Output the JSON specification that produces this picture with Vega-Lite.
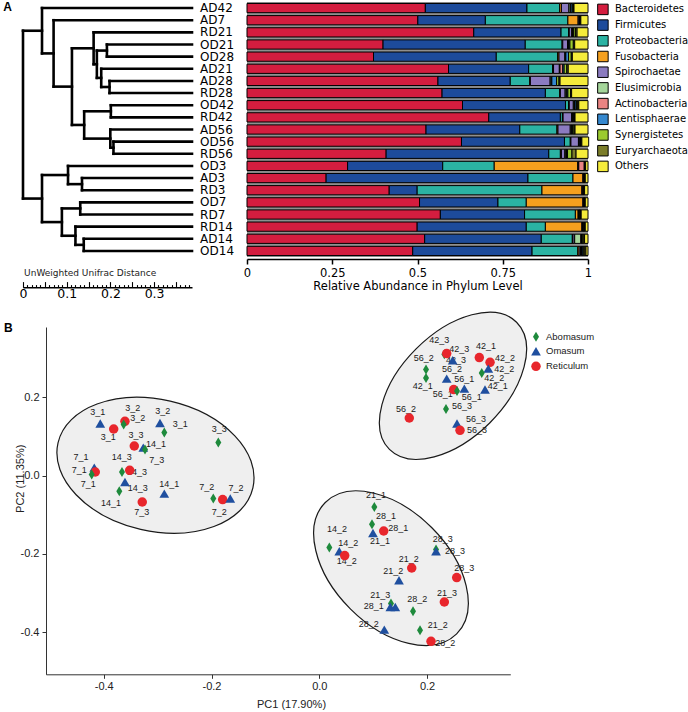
{
  "$schema": "https://vega.github.io/schema/vega-lite/v6.json",
  "padding": {"left": 3, "top": 1, "right": 0, "bottom": 0},
  "spacing": 5,
  "config": {"view": {"stroke": null}, "axis": {"grid": false}},
  "resolve": {"scale": {"color": "independent", "shape": "independent", "size": "independent"}, "legend": {"color": "independent", "shape": "independent", "size": "independent"}},
  "vconcat": [
    {
      "bounds": "flush",
      "spacing": 55,
      "hconcat": [
        {
          "width": 169,
          "height": 255,
          "title": {"text": "A", "anchor": "start", "frame": "group", "offset": 0, "dx": -19.7, "dy": 21.2, "fontSize": 12, "fontWeight": "bold", "font": "Liberation Sans", "baseline": "alphabetic", "color": "black"},
          "data": {"values": [
            {"x":0.0435,"x2":0.3867,"y":0,"y2":0},
            {"x":0.070,"x2":0.3867,"y":1,"y2":1},
            {"x":0.1616,"x2":0.3867,"y":2,"y2":2},
            {"x":0.192,"x2":0.3867,"y":3,"y2":3},
            {"x":0.192,"x2":0.3867,"y":4,"y2":4},
            {"x":0.179,"x2":0.3867,"y":5,"y2":5},
            {"x":0.198,"x2":0.3867,"y":6,"y2":6},
            {"x":0.198,"x2":0.3867,"y":7,"y2":7},
            {"x":0.201,"x2":0.3867,"y":8,"y2":8},
            {"x":0.201,"x2":0.3867,"y":9,"y2":9},
            {"x":0.1998,"x2":0.3867,"y":10,"y2":10},
            {"x":0.207,"x2":0.3867,"y":11,"y2":11},
            {"x":0.207,"x2":0.3867,"y":12,"y2":12},
            {"x":0.103,"x2":0.3867,"y":13,"y2":13},
            {"x":0.135,"x2":0.3867,"y":14,"y2":14},
            {"x":0.135,"x2":0.3867,"y":15,"y2":15},
            {"x":0.131,"x2":0.3867,"y":16,"y2":16},
            {"x":0.131,"x2":0.3867,"y":17,"y2":17},
            {"x":0.120,"x2":0.3867,"y":18,"y2":18},
            {"x":0.139,"x2":0.3867,"y":19,"y2":19},
            {"x":0.139,"x2":0.3867,"y":20,"y2":20},
            {"x":0,"x2":0.0435,"y":1.867,"y2":1.867},
            {"x":0,"x2":0.0435,"y":15.6875,"y2":15.6875},
            {"x":0.0435,"x2":0.070,"y":3.734,"y2":3.734},
            {"x":0.070,"x2":0.112,"y":6.469,"y2":6.469},
            {"x":0.112,"x2":0.1616,"y":3.3125,"y2":3.3125},
            {"x":0.112,"x2":0.140,"y":9.625,"y2":9.625},
            {"x":0.1616,"x2":0.169,"y":4.625,"y2":4.625},
            {"x":0.169,"x2":0.192,"y":3.5,"y2":3.5},
            {"x":0.169,"x2":0.179,"y":5.75,"y2":5.75},
            {"x":0.179,"x2":0.198,"y":6.5,"y2":6.5},
            {"x":0.140,"x2":0.201,"y":8.5,"y2":8.5},
            {"x":0.140,"x2":0.1998,"y":10.75,"y2":10.75},
            {"x":0.1998,"x2":0.207,"y":11.5,"y2":11.5},
            {"x":0.0435,"x2":0.103,"y":13.75,"y2":13.75},
            {"x":0.0435,"x2":0.089,"y":17.625,"y2":17.625},
            {"x":0.103,"x2":0.135,"y":14.5,"y2":14.5},
            {"x":0.089,"x2":0.131,"y":16.5,"y2":16.5},
            {"x":0.089,"x2":0.120,"y":18.75,"y2":18.75},
            {"x":0.120,"x2":0.139,"y":19.5,"y2":19.5},
            {"x":0,"x2":0,"y":1.867,"y2":15.6875},
            {"x":0.0435,"x2":0.0435,"y":0,"y2":3.734},
            {"x":0.070,"x2":0.070,"y":1,"y2":6.469},
            {"x":0.112,"x2":0.112,"y":3.3125,"y2":9.625},
            {"x":0.1616,"x2":0.1616,"y":2,"y2":4.625},
            {"x":0.169,"x2":0.169,"y":3.5,"y2":5.75},
            {"x":0.192,"x2":0.192,"y":3,"y2":4},
            {"x":0.179,"x2":0.179,"y":5,"y2":6.5},
            {"x":0.198,"x2":0.198,"y":6,"y2":7},
            {"x":0.140,"x2":0.140,"y":8.5,"y2":10.75},
            {"x":0.201,"x2":0.201,"y":8,"y2":9},
            {"x":0.1998,"x2":0.1998,"y":10,"y2":11.5},
            {"x":0.207,"x2":0.207,"y":11,"y2":12},
            {"x":0.0435,"x2":0.0435,"y":13.75,"y2":17.625},
            {"x":0.103,"x2":0.103,"y":13,"y2":14.5},
            {"x":0.135,"x2":0.135,"y":14,"y2":15},
            {"x":0.089,"x2":0.089,"y":16.5,"y2":18.75},
            {"x":0.131,"x2":0.131,"y":16,"y2":17},
            {"x":0.120,"x2":0.120,"y":18,"y2":19.5},
            {"x":0.139,"x2":0.139,"y":19,"y2":20}
          ]},
          "mark": {"type": "rule", "strokeWidth": 2.6, "color": "black", "strokeCap": "square"},
          "encoding": {
            "x": {"field": "x", "type": "quantitative", "scale": {"domain": [0, 0.3867], "nice": false, "zero": false},
              "axis": {"title": "UnWeighted Unifrac Distance", "titleX": 0.6, "titleY": -11.7, "titleAlign": "left", "titleBaseline": "alphabetic", "titleAnchor": "start", "titleFont": "DejaVu Sans", "titleFontSize": 9, "titleFontWeight": "normal", "titleColor": "#222",
                "offset": 30.3,
                "values": [0,0.01,0.02,0.03,0.04,0.05,0.06,0.07,0.08,0.09,0.1,0.11,0.12,0.13,0.14,0.15,0.16,0.17,0.18,0.19,0.2,0.21,0.22,0.23,0.24,0.25,0.26,0.27,0.28,0.29,0.3,0.31,0.32,0.33,0.34,0.35,0.36,0.37,0.38],
                "labelExpr": "datum.value == 0 ? '0' : (abs(datum.value*10 - round(datum.value*10)) < 0.0001 ? format(datum.value, '.1f') : '')",
                "labelFont": "DejaVu Sans", "labelFontSize": 12.5, "labelColor": "black", "labelPadding": 6, "labelFlush": false, "labelOverlap": false,
                "domainColor": "black", "domainWidth": 1.6, "tickColor": "black", "tickWidth": 1.1,
                "tickSize": {"condition": {"test": "abs(datum.value*20 - round(datum.value*20)) < 0.0001", "value": -5.7}, "value": -2.7}}},
            "x2": {"field": "x2"},
            "y": {"field": "y", "type": "quantitative", "scale": {"domain": [-0.5, 20.5], "reverse": true, "nice": false, "zero": false}, "axis": null},
            "y2": {"field": "y2"}
          }
        },
        {
          "width": 341,
          "height": 255,
          "view": {"fill": "#8f8f8f", "stroke": null},
          "data": {"values": [
            {"s":"AD42","Bacteroidetes":0.523,"Firmicutes":0.298,"Proteobacteria":0.096,"Fusobacteria":0.005,"Spirochaetae":0.022,"Elusimicrobia":0.004,"Actinobacteria":0.002,"Lentisphaerae":0.004,"Synergistetes":0.003,"Euryarchaeota":0.002,"Others":0.041},
            {"s":"AD7","Bacteroidetes":0.501,"Firmicutes":0.198,"Proteobacteria":0.242,"Fusobacteria":0.030,"Spirochaetae":0.003,"Elusimicrobia":0.001,"Actinobacteria":0.001,"Lentisphaerae":0.001,"Synergistetes":0.001,"Euryarchaeota":0.001,"Others":0.021},
            {"s":"RD21","Bacteroidetes":0.665,"Firmicutes":0.256,"Proteobacteria":0.022,"Fusobacteria":0.002,"Spirochaetae":0.007,"Elusimicrobia":0.003,"Actinobacteria":0.001,"Lentisphaerae":0.002,"Synergistetes":0.005,"Euryarchaeota":0.005,"Others":0.032},
            {"s":"OD21","Bacteroidetes":0.399,"Firmicutes":0.417,"Proteobacteria":0.108,"Fusobacteria":0.002,"Spirochaetae":0.014,"Elusimicrobia":0.003,"Actinobacteria":0.001,"Lentisphaerae":0.003,"Synergistetes":0.010,"Euryarchaeota":0.004,"Others":0.039},
            {"s":"OD28","Bacteroidetes":0.371,"Firmicutes":0.360,"Proteobacteria":0.180,"Fusobacteria":0.004,"Spirochaetae":0.017,"Elusimicrobia":0.002,"Actinobacteria":0.001,"Lentisphaerae":0.008,"Synergistetes":0.008,"Euryarchaeota":0.003,"Others":0.046},
            {"s":"AD21","Bacteroidetes":0.591,"Firmicutes":0.235,"Proteobacteria":0.070,"Fusobacteria":0.003,"Spirochaetae":0.017,"Elusimicrobia":0.002,"Actinobacteria":0.008,"Lentisphaerae":0.004,"Synergistetes":0.008,"Euryarchaeota":0.004,"Others":0.058},
            {"s":"AD28","Bacteroidetes":0.560,"Firmicutes":0.212,"Proteobacteria":0.057,"Fusobacteria":0.002,"Spirochaetae":0.058,"Elusimicrobia":0.003,"Actinobacteria":0.002,"Lentisphaerae":0.014,"Synergistetes":0.007,"Euryarchaeota":0.003,"Others":0.082},
            {"s":"RD28","Bacteroidetes":0.572,"Firmicutes":0.303,"Proteobacteria":0.042,"Fusobacteria":0.002,"Spirochaetae":0.014,"Elusimicrobia":0.003,"Actinobacteria":0.002,"Lentisphaerae":0.003,"Synergistetes":0.008,"Euryarchaeota":0.003,"Others":0.048},
            {"s":"OD42","Bacteroidetes":0.632,"Firmicutes":0.302,"Proteobacteria":0.009,"Fusobacteria":0.002,"Spirochaetae":0.012,"Elusimicrobia":0.003,"Actinobacteria":0.002,"Lentisphaerae":0.004,"Synergistetes":0.004,"Euryarchaeota":0.003,"Others":0.027},
            {"s":"RD42","Bacteroidetes":0.709,"Firmicutes":0.210,"Proteobacteria":0.006,"Fusobacteria":0.002,"Spirochaetae":0.025,"Elusimicrobia":0.002,"Actinobacteria":0.002,"Lentisphaerae":0.002,"Synergistetes":0.002,"Euryarchaeota":0.002,"Others":0.038},
            {"s":"AD56","Bacteroidetes":0.525,"Firmicutes":0.275,"Proteobacteria":0.109,"Fusobacteria":0.003,"Spirochaetae":0.036,"Elusimicrobia":0.003,"Actinobacteria":0.002,"Lentisphaerae":0.002,"Synergistetes":0.004,"Euryarchaeota":0.003,"Others":0.038},
            {"s":"OD56","Bacteroidetes":0.629,"Firmicutes":0.302,"Proteobacteria":0.017,"Fusobacteria":0.002,"Spirochaetae":0.022,"Elusimicrobia":0.002,"Actinobacteria":0.002,"Lentisphaerae":0.002,"Synergistetes":0.002,"Euryarchaeota":0.002,"Others":0.020},
            {"s":"RD56","Bacteroidetes":0.408,"Firmicutes":0.477,"Proteobacteria":0.034,"Fusobacteria":0.003,"Spirochaetae":0.010,"Elusimicrobia":0.003,"Actinobacteria":0.002,"Lentisphaerae":0.003,"Synergistetes":0.013,"Euryarchaeota":0.012,"Others":0.035},
            {"s":"OD3","Bacteroidetes":0.295,"Firmicutes":0.279,"Proteobacteria":0.151,"Fusobacteria":0.245,"Spirochaetae":0.002,"Elusimicrobia":0.001,"Actinobacteria":0.016,"Lentisphaerae":0.001,"Synergistetes":0.002,"Euryarchaeota":0.001,"Others":0.007},
            {"s":"AD3","Bacteroidetes":0.232,"Firmicutes":0.592,"Proteobacteria":0.132,"Fusobacteria":0.029,"Spirochaetae":0.002,"Elusimicrobia":0.001,"Actinobacteria":0.001,"Lentisphaerae":0.001,"Synergistetes":0.001,"Euryarchaeota":0.001,"Others":0.008},
            {"s":"RD3","Bacteroidetes":0.417,"Firmicutes":0.082,"Proteobacteria":0.366,"Fusobacteria":0.117,"Spirochaetae":0.002,"Elusimicrobia":0.001,"Actinobacteria":0.002,"Lentisphaerae":0.001,"Synergistetes":0.001,"Euryarchaeota":0.001,"Others":0.010},
            {"s":"OD7","Bacteroidetes":0.506,"Firmicutes":0.230,"Proteobacteria":0.083,"Fusobacteria":0.166,"Spirochaetae":0.002,"Elusimicrobia":0.001,"Actinobacteria":0.001,"Lentisphaerae":0.001,"Synergistetes":0.001,"Euryarchaeota":0.001,"Others":0.008},
            {"s":"RD7","Bacteroidetes":0.567,"Firmicutes":0.247,"Proteobacteria":0.149,"Fusobacteria":0.008,"Spirochaetae":0.002,"Elusimicrobia":0.001,"Actinobacteria":0.001,"Lentisphaerae":0.001,"Synergistetes":0.002,"Euryarchaeota":0.002,"Others":0.020},
            {"s":"RD14","Bacteroidetes":0.499,"Firmicutes":0.320,"Proteobacteria":0.056,"Fusobacteria":0.107,"Spirochaetae":0.002,"Elusimicrobia":0.002,"Actinobacteria":0.001,"Lentisphaerae":0.001,"Synergistetes":0.002,"Euryarchaeota":0.002,"Others":0.008},
            {"s":"AD14","Bacteroidetes":0.521,"Firmicutes":0.342,"Proteobacteria":0.091,"Fusobacteria":0.002,"Spirochaetae":0.005,"Elusimicrobia":0.018,"Actinobacteria":0.002,"Lentisphaerae":0.002,"Synergistetes":0.003,"Euryarchaeota":0.004,"Others":0.010},
            {"s":"OD14","Bacteroidetes":0.486,"Firmicutes":0.350,"Proteobacteria":0.134,"Fusobacteria":0.004,"Spirochaetae":0.004,"Elusimicrobia":0.003,"Actinobacteria":0.002,"Lentisphaerae":0.003,"Synergistetes":0.003,"Euryarchaeota":0.005,"Others":0.006}
          ]},
          "transform": [
            {"fold": ["Bacteroidetes","Firmicutes","Proteobacteria","Fusobacteria","Spirochaetae","Elusimicrobia","Actinobacteria","Lentisphaerae","Synergistetes","Euryarchaeota","Others"], "as": ["phylum", "v"]},
            {"window": [{"op": "row_number", "as": "k"}], "groupby": ["s"]}
          ],
          "mark": {"type": "bar", "stroke": "black", "strokeWidth": 1},
          "encoding": {
            "y": {"field": "s", "type": "nominal",
              "scale": {"domain": ["AD42","AD7","RD21","OD21","OD28","AD21","AD28","RD28","OD42","RD42","AD56","OD56","RD56","OD3","AD3","RD3","OD7","RD7","RD14","AD14","OD14"], "paddingInner": 0.24, "paddingOuter": 0.12},
              "axis": {"title": null, "ticks": false, "domain": false, "tickSize": 0, "labelAlign": "left", "labelPadding": 47.4, "labelFont": "DejaVu Sans", "labelFontSize": 12, "labelColor": "black", "labelBaseline": "middle"}},
            "x": {"field": "v", "type": "quantitative", "stack": "zero", "scale": {"domain": [0, 1], "nice": false},
              "axis": {"title": "Relative Abundance in Phylum Level", "values": [0, 0.25, 0.5, 0.75, 1], "format": ".2~f", "offset": 2, "labelFlush": false, "labelFont": "DejaVu Sans", "labelFontSize": 11.5, "labelColor": "black", "labelPadding": 3, "tickSize": 5, "tickWidth": 1.5, "tickColor": "black", "domainColor": "black", "domainWidth": 1.5, "titleFont": "DejaVu Sans", "titleFontSize": 11.5, "titleFontWeight": "normal", "titleColor": "black", "titlePadding": 2}},
            "color": {"field": "phylum", "type": "nominal",
              "scale": {"domain": ["Bacteroidetes","Firmicutes","Proteobacteria","Fusobacteria","Spirochaetae","Elusimicrobia","Actinobacteria","Lentisphaerae","Synergistetes","Euryarchaeota","Others"],
                "range": ["#d41d3f","#1d4b9b","#2bb3a3","#f5a01e","#8b7bc0","#a5d69b","#ea8483","#3588cf","#9ccb2f","#7b7d2a","#f5ec3b"]},
              "legend": {"title": null, "orient": "none", "legendX": 573.9, "legendY": 1.4, "padding": 0, "symbolType": "square", "symbolSize": 110, "symbolStrokeColor": "black", "symbolStrokeWidth": 1, "symbolOpacity": 1, "labelFont": "DejaVu Sans", "labelFontSize": 10, "labelColor": "black", "labelOffset": 6, "rowPadding": -0.3}},
            "order": {"field": "k", "type": "quantitative"}
          }
        }
      ]
    },
    {
      "bounds": "flush",
      "spacing": 0,
      "hconcat": [
        {"width": 22.3, "height": 10, "data": {"values": []}, "mark": "point", "encoding": {}},
        {
          "width": 464.3,
          "height": 347.3,
          "title": {"text": "B", "anchor": "start", "frame": "group", "offset": 0, "dx": -42, "dy": 34.4, "fontSize": 12, "fontWeight": "bold", "font": "Liberation Sans", "baseline": "alphabetic", "color": "black"},
          "data": {"values": [
            {"t":"Omasum","x":-0.4064,"y":0.1328,"lab":"3_1","lx":-0.4112,"ly":0.1624},
            {"t":"Reticulum","x":-0.3606,"y":0.1386,"lab":"3_2","lx":-0.3463,"ly":0.1718},
            {"t":"Abomasum","x":-0.3630,"y":0.1302,"lab":"3_2","lx":-0.3370,"ly":0.1463},
            {"t":"Reticulum","x":-0.3815,"y":0.1190,"lab":"3_1","lx":-0.3915,"ly":0.0985},
            {"t":"Omasum","x":-0.2956,"y":0.1343,"lab":"3_2","lx":-0.2906,"ly":0.1649},
            {"t":"Abomasum","x":-0.2876,"y":0.1098,"lab":"3_1","lx":-0.2579,"ly":0.1310},
            {"t":"Reticulum","x":-0.3433,"y":0.0756,"lab":"3_3","lx":-0.3401,"ly":0.1047},
            {"t":"Omasum","x":-0.3266,"y":0.0715,"lab":"14_1","lx":-0.3030,"ly":0.0817},
            {"t":"Abomasum","x":-0.3234,"y":0.0664,"lab":"7_3","lx":-0.3017,"ly":0.0408},
            {"t":"Abomasum","x":-0.1874,"y":0.0842,"lab":"3_3","lx":-0.1856,"ly":0.1200},
            {"t":"Omasum","x":-0.4175,"y":0.0204,"lab":"7_1","lx":-0.4422,"ly":0.0475},
            {"t":"Reticulum","x":-0.4157,"y":0.0092,"lab":"7_1","lx":-0.4454,"ly":0.0153},
            {"t":"Abomasum","x":-0.4223,"y":0.0026,"lab":"7_1","lx":-0.4287,"ly":-0.0222},
            {"t":"Abomasum","x":-0.3661,"y":0.0092,"lab":"14_3","lx":-0.3667,"ly":0.0475},
            {"t":"Reticulum","x":-0.3518,"y":0.0135,"lab":"14_3","lx":-0.3383,"ly":0.0092},
            {"t":"Omasum","x":-0.3606,"y":-0.0163,"lab":"14_3","lx":-0.3370,"ly":-0.0306},
            {"t":"Abomasum","x":-0.3711,"y":-0.0401,"lab":"14_1","lx":-0.3865,"ly":-0.0700},
            {"t":"Reticulum","x":-0.3285,"y":-0.0674,"lab":"7_3","lx":-0.3296,"ly":-0.0929},
            {"t":"Omasum","x":-0.2876,"y":-0.0460,"lab":"14_1","lx":-0.2783,"ly":-0.0204},
            {"t":"Abomasum","x":-0.1967,"y":-0.0587,"lab":"7_2","lx":-0.2089,"ly":-0.0291},
            {"t":"Reticulum","x":-0.1793,"y":-0.0613,"lab":"7_2","lx":-0.1856,"ly":-0.0929},
            {"t":"Omasum","x":-0.1652,"y":-0.0587,"lab":"7_2","lx":-0.1546,"ly":-0.0306},
            {"t":"Abomasum","x":0.2320,"y":0.3097,"lab":"42_3","lx":0.2227,"ly":0.3472},
            {"t":"Reticulum","x":0.2364,"y":0.3115,"lab":"42_3","lx":0.2598,"ly":0.3242},
            {"t":"Omasum","x":0.2475,"y":0.2944,"lab":"42_3","lx":0.2537,"ly":0.2961},
            {"t":"Reticulum","x":0.2969,"y":0.3013,"lab":"42_1","lx":0.3093,"ly":0.3301},
            {"t":"Reticulum","x":0.3168,"y":0.2893,"lab":"42_2","lx":0.3446,"ly":0.3013},
            {"t":"Omasum","x":0.3136,"y":0.2732,"lab":"42_2","lx":0.3433,"ly":0.2714},
            {"t":"Abomasum","x":0.3014,"y":0.2619,"lab":"42_2","lx":0.3247,"ly":0.2502},
            {"t":"Abomasum","x":0.1980,"y":0.2706,"lab":"56_2","lx":0.1937,"ly":0.3013},
            {"t":"Abomasum","x":0.1980,"y":0.2492,"lab":"42_1","lx":0.1919,"ly":0.2280},
            {"t":"Omasum","x":0.2364,"y":0.2476,"lab":"56_2","lx":0.2462,"ly":0.2714},
            {"t":"Reticulum","x":0.2494,"y":0.2196,"lab":"56_1","lx":0.2290,"ly":0.2093},
            {"t":"Abomasum","x":0.2555,"y":0.2160,"lab":"56_1","lx":0.2691,"ly":0.2466},
            {"t":"Omasum","x":0.2691,"y":0.2221,"lab":"56_1","lx":0.2828,"ly":0.2007},
            {"t":"Omasum","x":0.3075,"y":0.2196,"lab":"42_1","lx":0.3310,"ly":0.2280},
            {"t":"Abomasum","x":0.2351,"y":0.1700,"lab":"56_3","lx":0.2648,"ly":0.1787},
            {"t":"Omasum","x":0.2555,"y":0.1328,"lab":"56_3","lx":0.2908,"ly":0.1437},
            {"t":"Reticulum","x":0.2611,"y":0.1157,"lab":"56_3","lx":0.2926,"ly":0.1157},
            {"t":"Reticulum","x":0.1670,"y":0.1471,"lab":"56_2","lx":0.1609,"ly":0.1711},
            {"t":"Abomasum","x":0.1021,"y":-0.0802,"lab":"21_1","lx":0.1052,"ly":-0.0485},
            {"t":"Abomasum","x":0.0978,"y":-0.1243,"lab":"28_1","lx":0.1238,"ly":-0.1039},
            {"t":"Omasum","x":0.0996,"y":-0.1465,"lab":"21_1","lx":0.1126,"ly":-0.1677},
            {"t":"Reticulum","x":0.1195,"y":-0.1414,"lab":"28_1","lx":0.1466,"ly":-0.1338},
            {"t":"Abomasum","x":0.0186,"y":-0.1838,"lab":"14_2","lx":0.0328,"ly":-0.1371},
            {"t":"Omasum","x":0.0371,"y":-0.1933,"lab":"14_2","lx":0.0538,"ly":-0.1710},
            {"t":"Reticulum","x":0.0471,"y":-0.2042,"lab":"14_2","lx":0.0508,"ly":-0.2188},
            {"t":"Abomasum","x":0.2166,"y":-0.1889,"lab":"28_3","lx":0.2290,"ly":-0.1619},
            {"t":"Omasum","x":0.2166,"y":-0.1933,"lab":"28_3","lx":0.2518,"ly":-0.1933},
            {"t":"Reticulum","x":0.1715,"y":-0.2359,"lab":"21_2","lx":0.1659,"ly":-0.2119},
            {"t":"Omasum","x":0.1479,"y":-0.2673,"lab":"21_2","lx":0.1373,"ly":-0.2443},
            {"t":"Reticulum","x":0.2550,"y":-0.2604,"lab":"28_3","lx":0.2691,"ly":-0.2367},
            {"t":"Abomasum","x":0.1330,"y":-0.3268,"lab":"21_3","lx":0.1132,"ly":-0.3038},
            {"t":"Omasum","x":0.1318,"y":-0.3355,"lab":"28_1","lx":0.1009,"ly":-0.3329},
            {"t":"Omasum","x":0.1410,"y":-0.3355,"lab":"","lx":0.1410,"ly":-0.3355},
            {"t":"Abomasum","x":0.1739,"y":-0.3464,"lab":"28_2","lx":0.1819,"ly":-0.3150},
            {"t":"Reticulum","x":0.2320,"y":-0.3227,"lab":"21_3","lx":0.2370,"ly":-0.2997},
            {"t":"Omasum","x":0.1206,"y":-0.3932,"lab":"28_2","lx":0.0917,"ly":-0.3796},
            {"t":"Abomasum","x":0.1869,"y":-0.3949,"lab":"21_2","lx":0.2197,"ly":-0.3822},
            {"t":"Reticulum","x":0.2073,"y":-0.4230,"lab":"28_2","lx":0.2338,"ly":-0.4274}
          ]},
          "encoding": {
            "x": {"field": "x", "type": "quantitative", "scale": {"domain": [-0.5071, 0.3544], "nice": false, "zero": false},
              "axis": {"title": "PC1  (17.90%)", "values": [-0.4, -0.2, 0, 0.2], "format": ".1f", "labelExpr": "replace(datum.label, '\u2212', '-')", "labelFlush": false, "labelFont": "Liberation Sans", "labelFontSize": 11, "labelColor": "#222", "labelPadding": 2, "tickSize": 4, "tickColor": "#333", "domainColor": "#333", "domainWidth": 1, "titleFont": "Liberation Sans", "titleFontSize": 11, "titleFontWeight": "normal", "titleColor": "#222", "titleX": 245, "titleY": 33, "titleAlign": "center", "titleBaseline": "alphabetic"}},
            "y": {"field": "y", "type": "quantitative", "scale": {"domain": [-0.5073, 0.3794], "nice": false, "zero": false},
              "axis": {"title": "PC2  (11.35%)", "values": [-0.4, -0.2, 0, 0.2], "format": ".1f", "labelExpr": "replace(datum.label, '\u2212', '-')", "labelFlush": false, "labelFont": "Liberation Sans", "labelFontSize": 11, "labelColor": "#222", "labelPadding": 3, "tickSize": 4, "tickColor": "#333", "domainColor": "#333", "domainWidth": 1, "titleFont": "Liberation Sans", "titleFontSize": 11, "titleFontWeight": "normal", "titleColor": "#222", "titleX": -26, "titleY": 151.3, "titleAlign": "center", "titleBaseline": "middle"}}
          },
          "layer": [
            {"data": {"values": [{"x": -0.3040, "y": 0.0263}]},
             "mark": {"type": "point", "shape": "M 1 0 C 1 0.3634 0.5523 0.658 0 0.658 C -0.5523 0.658 -1 0.3634 -1 0 C -1 -0.3634 -0.5523 -0.658 0 -0.658 C 0.5523 -0.658 1 -0.3634 1 0 Z", "size": 40000, "angle": 13, "filled": true, "fill": "#efefef", "stroke": "#1a1a1a", "strokeWidth": 1.2, "opacity": 1}},
            {"data": {"values": [{"x": 0.2481, "y": 0.2293}]},
             "mark": {"type": "point", "shape": "M 1 0 C 1 0.3209 0.5523 0.581 0 0.581 C -0.5523 0.581 -1 0.3209 -1 0 C -1 -0.3209 -0.5523 -0.581 0 -0.581 C 0.5523 -0.581 1 -0.3209 1 0 Z", "size": 32328, "angle": -45, "filled": true, "fill": "#efefef", "stroke": "#1a1a1a", "strokeWidth": 1.2, "opacity": 1}},
            {"data": {"values": [{"x": 0.1330, "y": -0.2364}]},
             "mark": {"type": "point", "shape": "M 1 0 C 1 0.3419 0.5523 0.619 0 0.619 C -0.5523 0.619 -1 0.3419 -1 0 C -1 -0.3419 -0.5523 -0.619 0 -0.619 C 0.5523 -0.619 1 -0.3419 1 0 Z", "size": 34522, "angle": 45, "filled": true, "fill": "#efefef", "stroke": "#1a1a1a", "strokeWidth": 1.2, "opacity": 1}},
            {"mark": {"type": "text", "font": "Liberation Sans", "fontSize": 9, "color": "#1a1a1a", "align": "center", "baseline": "middle"},
             "encoding": {
               "x": {"field": "lx", "type": "quantitative", "axis": {"title": "PC1  (17.90%)"}},
               "y": {"field": "ly", "type": "quantitative", "axis": {"title": "PC2  (11.35%)"}},
               "text": {"field": "lab"}
             }},
            {"mark": {"type": "point", "filled": true, "opacity": 1, "strokeWidth": 0},
             "encoding": {
               "color": {"field": "t", "type": "nominal", "scale": {"domain": ["Abomasum", "Omasum", "Reticulum"], "range": ["#1e8a3c", "#1f4f9f", "#e8262c"]},
                 "legend": {"title": null, "orient": "none", "legendX": 507, "legendY": 3.8, "padding": 0, "symbolSize": 80, "symbolOpacity": 1, "labelFont": "Liberation Sans", "labelFontSize": 9.5, "labelColor": "#1a1a1a", "labelOffset": 4, "rowPadding": -1.5}},
               "shape": {"field": "t", "type": "nominal", "scale": {"domain": ["Abomasum", "Omasum", "Reticulum"], "range": ["M 0 -1 L 0.6 0 L 0 1 L -0.6 0 Z", "triangle-up", "circle"]},
                 "legend": {"title": null, "orient": "none", "legendX": 507, "legendY": 3.8, "padding": 0, "symbolSize": 80, "symbolOpacity": 1, "labelFont": "Liberation Sans", "labelFontSize": 9.5, "labelColor": "#1a1a1a", "labelOffset": 4, "rowPadding": -1.5}},
               "size": {"field": "t", "type": "nominal", "scale": {"domain": ["Abomasum", "Omasum", "Reticulum"], "range": [100, 90, 40]}, "legend": null}
             }}
          ]
        }
      ]
    }
  ]
}
